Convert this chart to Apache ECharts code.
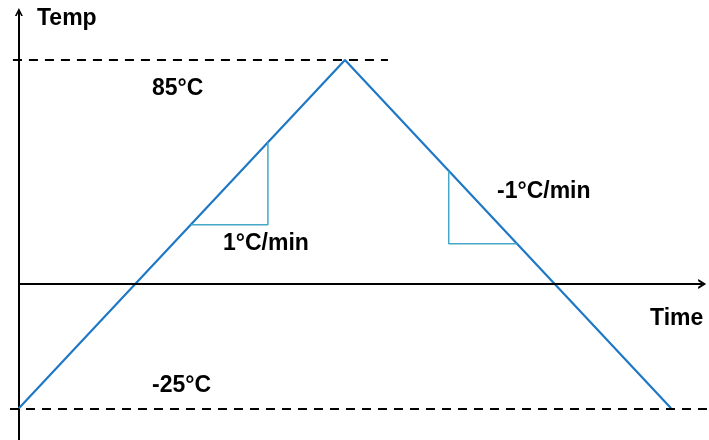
<!DOCTYPE html>
<html>
<head>
<meta charset="utf-8">
<script src="https://cdn.jsdelivr.net/npm/echarts@6/dist/echarts.min.js"></script>
<style>
    html, body { margin: 0; padding: 0; background: #fff; }
    #chart { width: 709px; height: 440px; }
</style>
</head>
<body>
<div id="chart"></div>
<script>
// temperature profile: -25 -> 85 at 1°C/min, then back down at -1°C/min
let timeMin = [0, 110, 220];
let tempC = [-25, 85, -25];
// slope triangles (time, temp)
let riseTri = [[58, 33], [84, 33], [84, 59]];
let fallTri = [[145, 50], [145, 27], [168, 27]];
let highTemp = 85;
let lowTemp = -25;
let timeAxisLevel = 14.3;

let font = 'Liberation Sans, Arial, sans-serif';
let chevron = 'path://M0,10 L5,0 L10,10 L7.8,10 L5,4.4 L2.2,10 Z';

let profile = timeMin.map(function (t, i) {
    return [t, tempC[i]];
});

let label = function (text, x, y) {
    return {
        type: 'text', x: x, y: y,
        style: { text: text, font: 'bold 23px ' + font, fill: '#000', verticalAlign: 'middle' }
    };
};

let chart = echarts.init(document.getElementById('chart'));
let option = {
    animation: false,
    grid: { left: 10, right: 0, top: 12, bottom: 0 },
    xAxis: {
        type: 'value',
        min: -3,
        max: 232.8,
        axisLine: { show: false },
        axisTick: { show: false },
        axisLabel: { show: false },
        splitLine: { show: false }
    },
    yAxis: {
        type: 'value',
        min: -35,
        max: 100.2,
        axisLine: {
            show: true,
            onZero: true,
            symbol: ['none', chevron],
            symbolSize: [10, 8],
            lineStyle: { color: '#000', width: 2 }
        },
        axisTick: { show: false },
        axisLabel: { show: false },
        splitLine: { show: false }
    },
    series: [
        {
            type: 'line',
            data: [],
            silent: true,
            markLine: {
                silent: true,
                symbol: ['none', 'none'],
                label: { show: false },
                lineStyle: { color: '#000', width: 2, type: [9, 7] },
                data: [
                    [{ coord: [-2, highTemp] }, { coord: [124.5, highTemp] }],
                    [{ coord: [-3, lowTemp] }, { coord: [232.8, lowTemp] }]
                ]
            }
        },
        {
            type: 'line',
            data: [],
            silent: true,
            markLine: {
                silent: true,
                symbol: ['none', chevron],
                symbolSize: [10, 8],
                label: { show: false },
                lineStyle: { color: '#000', width: 2, type: 'solid' },
                data: [
                    [{ coord: [0, timeAxisLevel] }, { coord: [230.5, timeAxisLevel] }]
                ]
            }
        },
        {
            type: 'line',
            data: profile,
            symbol: 'none',
            silent: true,
            lineStyle: { color: '#1f78c6', width: 2.2 }
        },
        {
            type: 'line',
            data: riseTri,
            symbol: 'none',
            silent: true,
            lineStyle: { color: '#45a8c8', width: 1.5 }
        },
        {
            type: 'line',
            data: fallTri,
            symbol: 'none',
            silent: true,
            lineStyle: { color: '#45a8c8', width: 1.5 }
        }
    ],
    graphic: [
        label('Temp', 37, 19),
        label('Time', 650, 319),
        label('85°C', 152, 89),
        label('-25°C', 152, 386),
        label('1°C/min', 223, 244),
        label('-1°C/min', 497, 192)
    ]
};
chart.setOption(option);
</script>
</body>
</html>
